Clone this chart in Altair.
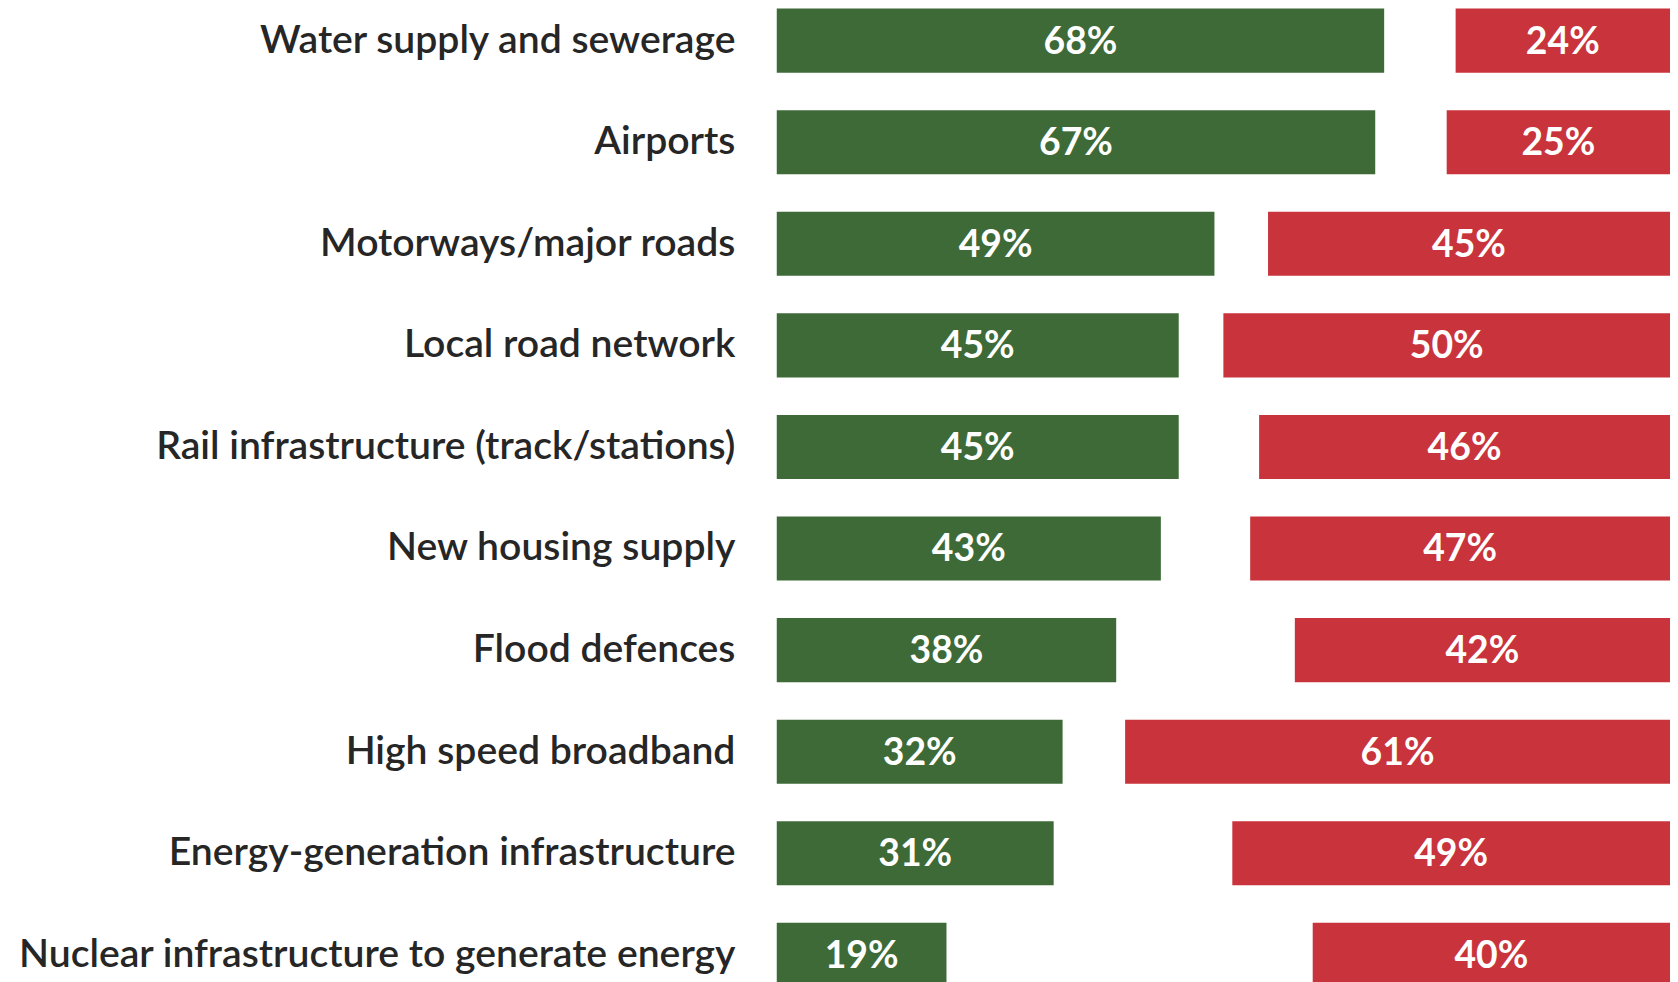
import altair as alt
import pandas as pd

categories = [
    "Water supply and sewerage",
    "Airports",
    "Motorways/major roads",
    "Local road network",
    "Rail infrastructure (track/stations)",
    "New housing supply",
    "Flood defences",
    "High speed broadband",
    "Energy-generation infrastructure",
    "Nuclear infrastructure to generate energy",
]
good = [68, 67, 49, 45, 45, 43, 38, 32, 31, 19]
bad = [24, 25, 45, 50, 46, 47, 42, 61, 49, 40]

df = pd.DataFrame({"category": categories, "good": good, "bad": bad})

GREEN = "#3D6A37"
RED = "#C9333B"
FONT = "Lato"

yscale = alt.Scale(range=[-1.5, 981], paddingInner=0.369, paddingOuter=0)
xscale = alt.Scale(domain=[0, 100], nice=False, zero=True)

y_axis = alt.Y(
    "category:N",
    sort=categories,
    scale=yscale,
    axis=alt.Axis(
        title=None, ticks=False, domain=False, grid=False,
        labelFont=FONT, labelFontSize=39.3, labelFontWeight=600,
        labelColor="#262626", labelPadding=42, labelLimit=0,
    ),
)

base = alt.Chart(df).transform_calculate(
    bad_start="100 - datum.bad",
    bad_end="100",
    good_mid="datum.good / 2",
    bad_mid="100 - datum.bad / 2",
    good_label="datum.good + '%'",
    bad_label="datum.bad + '%'",
)

green = base.mark_bar(color=GREEN).encode(
    x=alt.X("good:Q", scale=xscale, axis=None), y=y_axis
)
red = base.mark_bar(color=RED).encode(
    x=alt.X("bad_start:Q", scale=xscale, axis=None), x2="bad_end:Q", y=y_axis
)
text_style = dict(color="white", font=FONT, fontSize=37.5, fontWeight=700,
                  align="center", baseline="middle", dy=2)
gtext = base.mark_text(**text_style).encode(
    x=alt.X("good_mid:Q", scale=xscale, axis=None), y=y_axis, text="good_label:N"
)
rtext = base.mark_text(**text_style).encode(
    x=alt.X("bad_mid:Q", scale=xscale, axis=None), y=y_axis, text="bad_label:N"
)

chart = (
    alt.layer(green, red, gtext, rtext)
    .properties(
        width=897,
        height=974,
        autosize=alt.AutoSizeParams(type="none"),
        padding={"left": 772, "top": 0, "right": 0, "bottom": 0},
    )
    .configure_view(stroke=None)
)

chart.save("out.html", embed_options={"renderer": "svg", "actions": False})
